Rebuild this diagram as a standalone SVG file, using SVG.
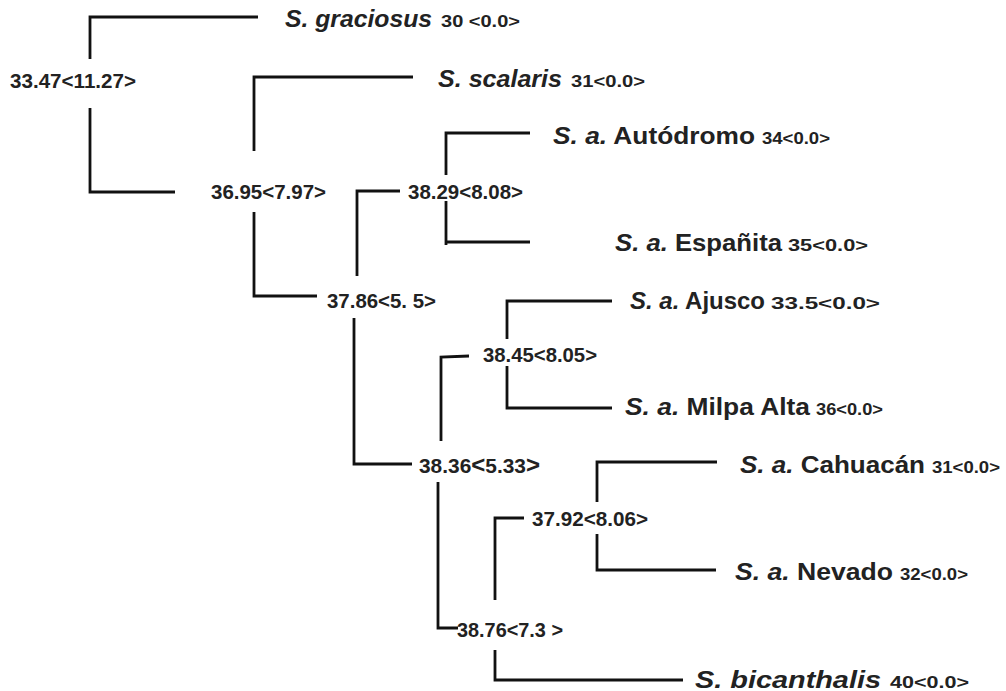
<svg xmlns="http://www.w3.org/2000/svg" width="1006" height="691" viewBox="0 0 1006 691">
<style>
.ln{fill:none;stroke:#111;stroke-width:2.8;stroke-linecap:butt;stroke-linejoin:miter}
.nd{font-family:"Liberation Sans",Arial,sans-serif;font-weight:bold;font-size:20px;fill:#222}
.sp{font-family:"Liberation Sans",Arial,sans-serif;font-weight:bold;font-size:24px;fill:#222}
.it{font-style:italic}
.nm{font-family:"Liberation Sans",Arial,sans-serif;font-weight:bold;font-size:17px;fill:#222}
</style>
<rect width="1006" height="691" fill="#fff"/>
<g id="connectors">
<path class="ln" d="M90,59 V17 H258"/>
<path class="ln" d="M90,108 V192 H175"/>
<path class="ln" d="M254,151 V77 H413"/>
<path class="ln" d="M254,212 V296 H317"/>
<path class="ln" d="M357,276 V191 H400"/>
<path class="ln" d="M446,175 V133 H530"/>
<path class="ln" d="M446,201 V245"/>
<path class="ln" d="M446,242 H530"/>
<path class="ln" d="M354,318 V464 H412"/>
<path class="ln" d="M441,441 V357 L469,356"/>
<path class="ln" d="M507,339 V301 H612"/>
<path class="ln" d="M507,366 V408 H612"/>
<path class="ln" d="M438,482 V628 H458"/>
<path class="ln" d="M495,600 V518 H524"/>
<path class="ln" d="M495,650 V680 H683"/>
<path class="ln" d="M597,502 V462 H717"/>
<path class="ln" d="M597,534 V570 H716"/>
</g>
<g id="n1"><text class="nd" x="10" y="88" textLength="126" lengthAdjust="spacingAndGlyphs">33.47&lt;11.27&gt;</text></g>
<g id="n2"><text class="nd" x="211" y="199" textLength="115" lengthAdjust="spacingAndGlyphs">36.95&lt;7.97&gt;</text></g>
<g id="n3"><text class="nd" x="408" y="199" textLength="115" lengthAdjust="spacingAndGlyphs">38.29&lt;8.08&gt;</text></g>
<g id="n4"><text class="nd" x="327" y="308" textLength="109" lengthAdjust="spacingAndGlyphs">37.86&lt;5. 5&gt;</text></g>
<g id="n5"><text class="nd" x="483" y="362" textLength="114" lengthAdjust="spacingAndGlyphs">38.45&lt;8.05&gt;</text></g>
<g id="n6"><text class="nd" x="419" y="473" textLength="121" lengthAdjust="spacingAndGlyphs">38.36<tspan font-size="23">&lt;</tspan>5.33<tspan font-size="23">&gt;</tspan></text></g>
<g id="n7"><text class="nd" x="532" y="526" textLength="116" lengthAdjust="spacingAndGlyphs">37.92&lt;8.06&gt;</text></g>
<g id="n8"><text class="nd" x="457" y="637" textLength="106" lengthAdjust="spacingAndGlyphs">38.76&lt;7.3 &gt;</text></g>
<g id="leaf1"><text class="sp it" x="285" y="27" textLength="147" lengthAdjust="spacingAndGlyphs">S. graciosus</text><text class="nm" x="441" y="27" textLength="79" lengthAdjust="spacingAndGlyphs">30 &lt;0.0&gt;</text></g>
<g id="leaf2"><text class="sp it" x="438" y="87" textLength="124" lengthAdjust="spacingAndGlyphs">S. scalaris</text><text class="nm" x="571" y="87" textLength="74" lengthAdjust="spacingAndGlyphs">31&lt;0.0&gt;</text></g>
<g id="leaf3"><text class="sp" x="553" y="144" textLength="202" lengthAdjust="spacingAndGlyphs"><tspan class="it">S. a.</tspan> Autódromo</text><text class="nm" x="762" y="144" textLength="68" lengthAdjust="spacingAndGlyphs">34&lt;0.0&gt;</text></g>
<g id="leaf4"><text class="sp" x="615" y="251" textLength="167" lengthAdjust="spacingAndGlyphs"><tspan class="it">S. a.</tspan> Españita</text><text class="nm" x="788" y="251" textLength="80" lengthAdjust="spacingAndGlyphs">35&lt;0.0&gt;</text></g>
<g id="leaf5"><text class="sp" x="630" y="309" textLength="135" lengthAdjust="spacingAndGlyphs"><tspan class="it">S. a.</tspan> Ajusco</text><text class="nm" x="771" y="309" textLength="109" lengthAdjust="spacingAndGlyphs">33.5&lt;0.0&gt;</text></g>
<g id="leaf6"><text class="sp" x="625" y="415" textLength="185" lengthAdjust="spacingAndGlyphs"><tspan class="it">S. a.</tspan> Milpa Alta</text><text class="nm" x="816" y="415" textLength="67" lengthAdjust="spacingAndGlyphs">36&lt;0.0&gt;</text></g>
<g id="leaf7"><text class="sp" x="740" y="473" textLength="185" lengthAdjust="spacingAndGlyphs"><tspan class="it">S. a.</tspan> Cahuacán</text><text class="nm" x="932" y="473" textLength="68" lengthAdjust="spacingAndGlyphs">31&lt;0.0&gt;</text></g>
<g id="leaf8"><text class="sp" x="735" y="580" textLength="158" lengthAdjust="spacingAndGlyphs"><tspan class="it">S. a.</tspan> Nevado</text><text class="nm" x="900" y="580" textLength="68" lengthAdjust="spacingAndGlyphs">32&lt;0.0&gt;</text></g>
<g id="leaf9"><text class="sp it" x="695" y="688" font-size="25" textLength="186" lengthAdjust="spacingAndGlyphs">S. bicanthalis</text><text class="nm" x="890" y="688" textLength="79" lengthAdjust="spacingAndGlyphs">40&lt;0.0&gt;</text></g>
</svg>
